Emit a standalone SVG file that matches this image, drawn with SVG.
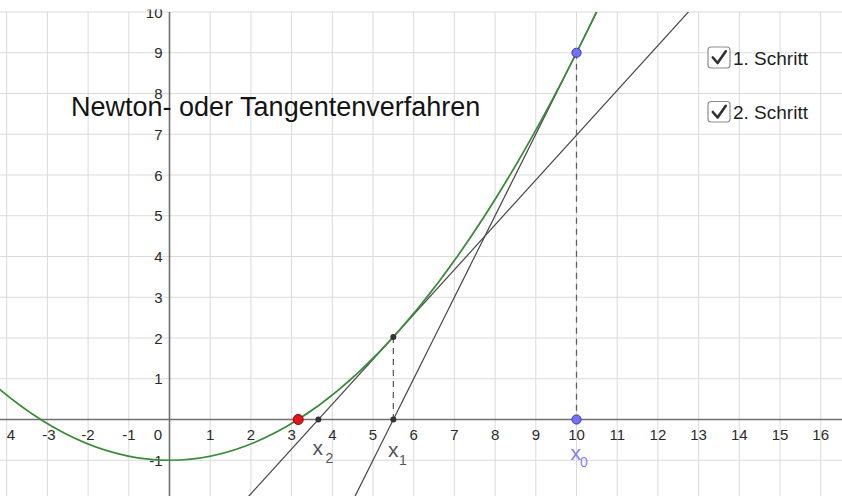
<svg xmlns="http://www.w3.org/2000/svg" width="842" height="496" viewBox="0 0 842 496">
  <style>
    .grid { stroke: #dadada; stroke-width: 1; fill: none; }
    .axis { stroke: #707070; stroke-width: 1.6; fill: none; }
    .tick { font-family: "Liberation Sans", Arial, sans-serif; font-size: 15px; fill: #2a2a2a; }
    .tan { stroke: #454545; stroke-width: 1.2; fill: none; }
    .dash { stroke: #606060; stroke-width: 1.3; stroke-dasharray: 6 5; fill: none; }
    .curve { stroke: #3a8a3a; stroke-width: 1.7; fill: none; }
    .lbl { font-family: "Liberation Sans", Arial, sans-serif; font-size: 21px; }
    .sub { font-family: "Liberation Sans", Arial, sans-serif; font-size: 14px; }
    .cb { fill: #ffffff; stroke: #8c8c8c; stroke-width: 1.2; }
    .chk { fill: none; stroke: #303030; stroke-width: 2.6; stroke-linecap: round; stroke-linejoin: round; }
    .cbt { font-family: "Liberation Sans", Arial, sans-serif; font-size: 19px; fill: #1e1e1e; }
  </style>
  <defs>
    <clipPath id="plot"><rect x="0" y="12" width="842" height="484"/></clipPath>
    <clipPath id="lab"><rect x="0" y="9.5" width="842" height="488"/></clipPath>
  </defs>
  <rect x="0" y="0" width="842" height="496" fill="#ffffff"/>

  <g id="grid" class="grid">
    <path d="M6.7 12V496M47.4 12V496M88.1 12V496M128.8 12V496M210.2 12V496M250.9 12V496M291.6 12V496M332.3 12V496M373 12V496M413.7 12V496M454.4 12V496M495.1 12V496M535.8 12V496M576.5 12V496M617.2 12V496M657.9 12V496M698.6 12V496M739.3 12V496M780 12V496M820.7 12V496"/>
    <path d="M0 12H842M0 52.75H842M0 93.5H842M0 134.25H842M0 175H842M0 215.75H842M0 256.5H842M0 297.25H842M0 338H842M0 378.75H842M0 460.25H842"/>
  </g>

  <g id="axes" class="axis">
    <path d="M0 419.5H842"/>
    <path d="M169.5 12V496"/>
  </g>

  <g id="x-ticks" class="tick" text-anchor="middle">
    <text x="11" y="439.5">4</text>
    <text x="49" y="439.5">-3</text>
    <text x="88" y="439.5">-2</text>
    <text x="129" y="439.5">-1</text>
    <text x="158" y="439.5">0</text>
    <text x="210.2" y="439.5">1</text>
    <text x="250.9" y="439.5">2</text>
    <text x="291.6" y="439.5">3</text>
    <text x="332.3" y="439.5">4</text>
    <text x="373" y="439.5">5</text>
    <text x="413.7" y="439.5">6</text>
    <text x="454.4" y="439.5">7</text>
    <text x="495.1" y="439.5">8</text>
    <text x="535.8" y="439.5">9</text>
    <text x="576.5" y="439.5">10</text>
    <text x="617.2" y="439.5">11</text>
    <text x="657.9" y="439.5">12</text>
    <text x="698.6" y="439.5">13</text>
    <text x="739.3" y="439.5">14</text>
    <text x="780" y="439.5">15</text>
    <text x="820.7" y="439.5">16</text>
  </g>

  <g id="y-ticks" class="tick" text-anchor="end" clip-path="url(#lab)">
    <text x="162.5" y="18">10</text>
    <text x="162.5" y="58.25">9</text>
    <text x="162.5" y="99">8</text>
    <text x="162.5" y="139.75">7</text>
    <text x="162.5" y="180.5">6</text>
    <text x="162.5" y="221.25">5</text>
    <text x="162.5" y="262">4</text>
    <text x="162.5" y="302.75">3</text>
    <text x="162.5" y="343.5">2</text>
    <text x="162.5" y="384.25">1</text>
    <text x="162.5" y="466">-1</text>
  </g>

  <g id="connectors" clip-path="url(#plot)">
    <path id="tangent1" class="tan" d="M352.65 501L607 -8.4"/>
    <path id="tangent2" class="tan" d="M244.4 501L706.9 -8.4"/>
    <path id="parabola" class="curve" d="M-5.51 384.9Q297.7 645.99 600.92 2.38"/>
    <path id="drop0" class="dash" d="M576.5 52.75V419.5"/>
    <path id="drop1" class="dash" d="M393.35 337V419.5"/>
  </g>

  <g id="points">
    <circle id="P0" cx="576.5" cy="52.75" r="4.6" fill="#7272ff" stroke="#34349a" stroke-width="1"/>
    <circle id="X0pt" cx="576.5" cy="419.5" r="4.6" fill="#7272ff" stroke="#34349a" stroke-width="1"/>
    <circle id="P1" cx="393.35" cy="337" r="3" fill="#333333"/>
    <circle id="X1pt" cx="393.35" cy="419.5" r="3" fill="#333333"/>
    <circle id="X2pt" cx="318.4" cy="419.5" r="3" fill="#333333"/>
    <circle id="root" cx="298.2" cy="419.5" r="5" fill="#e3141b" stroke="#8a0000" stroke-width="1"/>
  </g>

  <g id="label-x0" fill="#8080ff">
    <text class="lbl" x="570.5" y="460">x</text>
    <text class="sub" x="580" y="467">0</text>
  </g>
  <g id="label-x1" fill="#555555">
    <text class="lbl" x="388" y="457">x</text>
    <text class="sub" x="399" y="465">1</text>
  </g>
  <g id="label-x2" fill="#555555">
    <text class="lbl" x="312.5" y="455">x</text>
    <text class="sub" x="325.5" y="463">2</text>
  </g>

  <g id="title">
    <text x="71" y="116" font-family="Liberation Sans, Arial, sans-serif" font-size="27" fill="#141414">Newton- oder Tangentenverfahren</text>
  </g>

  <g id="checkbox1">
    <rect class="cb" x="708" y="47" width="22" height="21" rx="3"/>
    <path class="chk" d="M712.8 57.5L717.6 63L725.8 51.3"/>
    <text class="cbt" x="733" y="65">1. Schritt</text>
  </g>
  <g id="checkbox2">
    <rect class="cb" x="708" y="101.5" width="22" height="20.5" rx="3"/>
    <path class="chk" d="M712.8 112L717.6 117.5L725.8 105.8"/>
    <text class="cbt" x="733" y="119">2. Schritt</text>
  </g>
</svg>
